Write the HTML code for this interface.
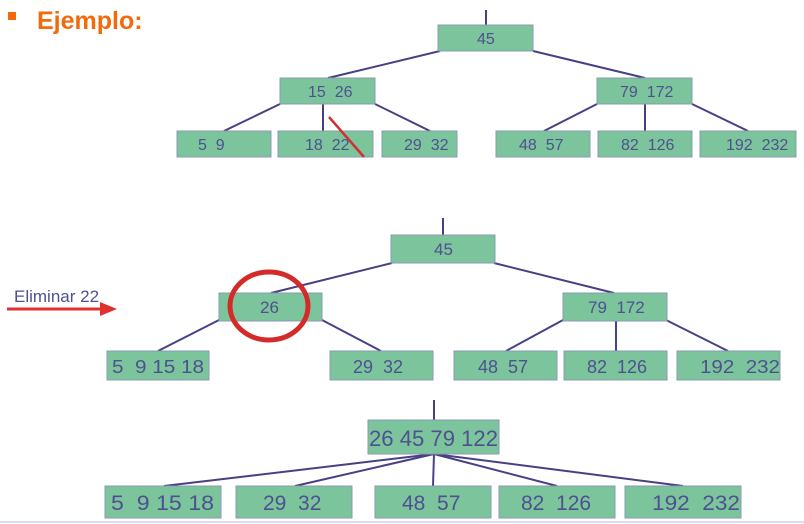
<!DOCTYPE html>
<html><head><meta charset="utf-8"><style>
html,body{margin:0;padding:0;background:#fff;width:804px;height:524px;overflow:hidden}
svg{display:block}
svg text{white-space:pre}
</style></head><body>
<svg width="804" height="524" viewBox="0 0 804 524" xmlns="http://www.w3.org/2000/svg" font-family="Liberation Sans, sans-serif">
<rect x="8" y="12" width="8" height="8" fill="#f26a0a"/>
<text x="37" y="29" font-size="25" font-weight="bold" fill="#f26a0a">Ejemplo:</text>
<g stroke="#4a3f85" stroke-width="2" fill="none">
<line x1="486" y1="10" x2="486" y2="25"/>
<line x1="440" y1="51" x2="328" y2="78"/>
<line x1="533" y1="51" x2="645" y2="78"/>
<line x1="280" y1="104" x2="224" y2="131"/>
<line x1="323" y1="104" x2="323" y2="131"/>
<line x1="375" y1="104" x2="430" y2="131"/>
<line x1="597" y1="104" x2="544" y2="131"/>
<line x1="645" y1="104" x2="645" y2="131"/>
<line x1="692" y1="104" x2="748" y2="131"/>
<line x1="443" y1="218" x2="443" y2="235"/>
<line x1="392" y1="263" x2="271" y2="293"/>
<line x1="494" y1="263" x2="614" y2="293"/>
<line x1="219" y1="320" x2="158" y2="351"/>
<line x1="322" y1="320" x2="381" y2="351"/>
<line x1="563" y1="320" x2="506" y2="351"/>
<line x1="616" y1="320" x2="616" y2="351"/>
<line x1="666" y1="320" x2="728" y2="351"/>
<line x1="434" y1="400" x2="434" y2="420"/>
<line x1="434" y1="454" x2="164" y2="486"/>
<line x1="434" y1="454" x2="295" y2="486"/>
<line x1="434" y1="454" x2="433" y2="486"/>
<line x1="434" y1="454" x2="557" y2="486"/>
<line x1="434" y1="454" x2="683" y2="486"/>
</g>
<g fill="#7cc49c" stroke="#8a9bb0" stroke-width="1">
<rect x="438" y="25" width="95" height="26"/>
<rect x="280" y="78" width="95" height="26"/>
<rect x="597" y="78" width="95" height="26"/>
<rect x="177" y="131" width="94" height="26"/>
<rect x="278" y="131" width="95" height="26"/>
<rect x="382" y="131" width="75" height="26"/>
<rect x="496" y="131" width="94" height="26"/>
<rect x="598" y="131" width="94" height="26"/>
<rect x="700" y="131" width="96" height="26"/>
<rect x="391" y="235" width="104" height="28"/>
<rect x="219" y="293" width="103" height="28"/>
<rect x="563" y="293" width="104" height="28"/>
<rect x="107" y="351" width="102" height="29"/>
<rect x="330" y="351" width="103" height="29"/>
<rect x="454" y="351" width="103" height="29"/>
<rect x="564" y="351" width="103" height="29"/>
<rect x="677" y="351" width="103" height="29"/>
<rect x="368" y="420" width="131" height="34"/>
<rect x="105" y="486" width="116" height="32"/>
<rect x="236" y="486" width="116" height="32"/>
<rect x="375" y="486" width="116" height="32"/>
<rect x="499" y="486" width="116" height="32"/>
<rect x="625" y="486" width="116" height="32"/>
</g>
<g fill="#4f5090" font-size="16">
<text x="477" y="44">45</text>
<text x="308" y="97">15  26</text>
<text x="620" y="97">79  172</text>
<text x="198" y="150">5  9</text>
<text x="305" y="150">18  22</text>
<text x="404" y="150">29  32</text>
<text x="519" y="150">48  57</text>
<text x="621" y="150">82  126</text>
<text x="726" y="150">192  232</text>
<text x="434" y="255" font-size="17">45</text>
<text x="260" y="313" font-size="17">26</text>
<text x="588" y="313" font-size="17">79  172</text>
<text x="112" y="373" font-size="18" textLength="92" lengthAdjust="spacingAndGlyphs">5  9 15 18</text>
<text x="353" y="373" font-size="18">29  32</text>
<text x="478" y="373" font-size="18">48  57</text>
<text x="587" y="373" font-size="18">82  126</text>
<text x="700" y="373" font-size="18" textLength="80" lengthAdjust="spacingAndGlyphs">192  232</text>
<text x="369" y="446" font-size="22" textLength="129" lengthAdjust="spacingAndGlyphs">26 45 79 122</text>
<text x="111" y="510" font-size="21" textLength="103" lengthAdjust="spacingAndGlyphs">5  9 15 18</text>
<text x="263" y="510" font-size="21">29  32</text>
<text x="402" y="510" font-size="21">48  57</text>
<text x="521" y="510" font-size="21">82  126</text>
<text x="652" y="510" font-size="21" textLength="88" lengthAdjust="spacingAndGlyphs">192  232</text>
<text x="14" y="302" font-size="17">Eliminar 22</text>
</g>
<line x1="329" y1="117" x2="364" y2="157" stroke="#d03030" stroke-width="2.5"/>
<ellipse cx="269" cy="306" rx="39" ry="34" fill="none" stroke="#d42a2a" stroke-width="5"/>
<line x1="7" y1="309" x2="102" y2="309" stroke="#e03030" stroke-width="3"/>
<polygon points="100,302 117,309 100,316" fill="#e03030"/>
<line x1="0" y1="522" x2="804" y2="522" stroke="#dcdcf0" stroke-width="2"/>
</svg>
</body></html>
